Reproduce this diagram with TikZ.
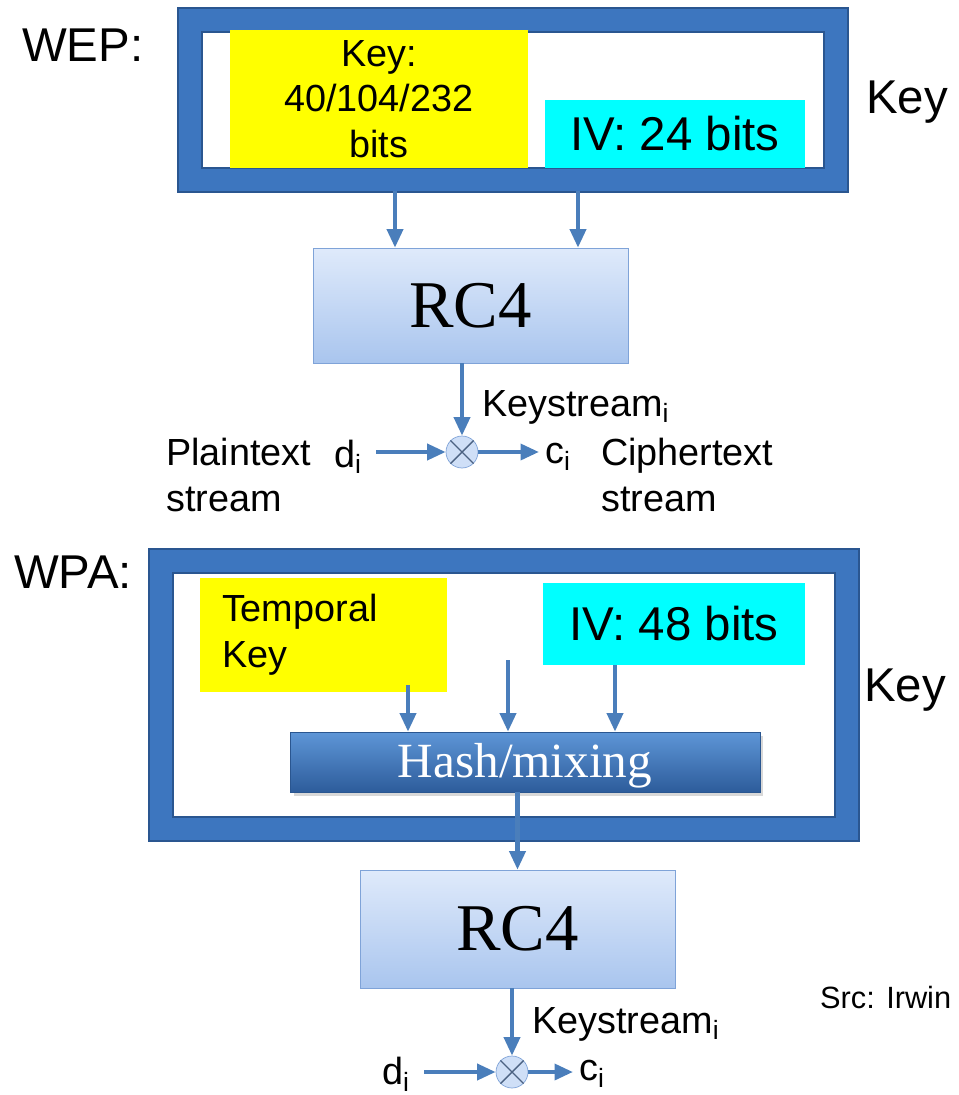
\documentclass[tikz,border=0pt]{standalone}
\usepackage{fontspec}
\setmainfont{Liberation Sans}
\newfontfamily\boxserif{Liberation Serif}
\usepackage{xcolor}
\usetikzlibrary{arrows.meta,shadows}

\definecolor{frameblue}{HTML}{3D76BF}
\definecolor{framedark}{HTML}{2A5690}
\definecolor{arrowblue}{HTML}{4A7EBB}
\definecolor{rctop}{HTML}{DFEAFB}
\definecolor{rcbottom}{HTML}{A9C5EE}
\definecolor{rcedge}{HTML}{7FA3D8}
\definecolor{hashtop}{HTML}{5E96D7}
\definecolor{hashbottom}{HTML}{2D5C9B}
\definecolor{keyyellow}{HTML}{FFFF00}
\definecolor{ivcyan}{HTML}{00FFFF}

\begin{document}
\begin{tikzpicture}[x=0.02cm,y=-0.02cm,
	big/.style={font=\fontsize{27}{32}\selectfont},
	mid/.style={font=\fontsize{21.5}{26}\selectfont},
	frame/.style={draw=framedark,line width=0.9pt,double=frameblue,double distance=0.44cm,fill=white,outer sep=0.23cm,minimum width=#1},
	rcbox/.style={draw=rcedge,top color=rctop,bottom color=rcbottom,font=\boxserif\fontsize{38}{40}\selectfont},
	xor/.style={circle,draw=rcedge,fill=rctop!70!rcbottom,minimum size=0.64cm,inner sep=0pt},
	arr/.style={arrowblue,line width=2.3pt,-{Triangle[length=10.5pt,width=9pt]}}]
	\useasboundingbox (0,0) rectangle (958,1095);

	\node[big,anchor=west] (weplabel) at (16,45) {WEP:};
	\node[frame=12.92cm,minimum height=3.2cm] (wepframe) at (513,100) {};
	\node[fill=keyyellow,minimum width=5.96cm,minimum height=2.76cm,align=center,mid] (wepkey) at (379,99) {Key:\\40/104/232\\bits};
	\node[fill=ivcyan,minimum width=5.2cm,minimum height=1.36cm,big] (wepiv) at (675,134) {IV: 24 bits};
	\node[big,anchor=west] (wepkeylabel) at (860,102) {Key};

	\node[rcbox,minimum width=6.3cm,minimum height=2.3cm] (rc4a) at (470.5,305.5) {RC4};
	\draw[arr] (wepframe.south -| 395,0) -- (rc4a.north -| 395,0);
	\draw[arr] (wepframe.south -| 578,0) -- (rc4a.north -| 578,0);

	\node[xor] (xora) at (462,452) {};
	\draw[rcedge!60!black,line width=0.8pt] (xora.north west) -- (xora.south east) (xora.north east) -- (xora.south west);
	\draw[arr] (rc4a.south -| xora.north) -- (xora.north);
	\node[mid,anchor=west] (ksa) at (476,407) {Keystream\textsubscript{i}};
	\node[mid,anchor=north west,align=left] (plain) at (160,432) {Plaintext\\stream};
	\node[mid] (da) at (348,457) {d\textsubscript{i}};
	\node[mid] (ca) at (558,457) {c\textsubscript{i}};
	\node[mid,anchor=north west,align=left] (cipher) at (595,432) {Ciphertext\\stream};
	\draw[arr] (xora.west -| da.east) ++(8,0) -- (xora.west);
	\draw[arr] (xora.east) -- (xora.east -| ca.west);

	\node[big,anchor=west] (wpalabel) at (8,572) {WPA:};
	\node[frame=13.72cm,minimum height=5.36cm] (wpaframe) at (504,695) {};
	\node[fill=keyyellow,minimum width=4.94cm,minimum height=2.28cm,text width=4.06cm,inner xsep=0.44cm,align=left,mid] (tk) at (323.5,635) {Temporal\\Key};
	\node[fill=ivcyan,minimum width=5.24cm,minimum height=1.64cm,big] (wpaiv) at (674,624) {IV: 48 bits};
	\node[big,anchor=west] (wpakeylabel) at (858,690) {Key};

	\node[draw=framedark,top color=hashtop,bottom color=hashbottom,minimum width=9.4cm,minimum height=1.2cm,text=white,text height=18pt,text depth=0pt,font=\boxserif\fontsize{28}{30}\selectfont,drop shadow={opacity=0.3,shadow xshift=2pt,shadow yshift=-2pt}] (hash) at (525,762) {Hash/mixing};
	\coordinate (mix) at (508,660);
	\draw[arr] (408,685) -- (hash.north -| 408,0);
	\draw[arr] (mix) -- (hash.north -| mix);
	\draw[arr] (wpaiv.south -| 615,0) -- (hash.north -| 615,0);

	\node[rcbox,minimum width=6.3cm,minimum height=2.36cm] (rc4b) at (517.5,929) {RC4};
	\draw[arr] (hash.south -| rc4b.north) -- (rc4b.north);
	\node[font=\fontsize{17.5}{20}\selectfont,anchor=west] (src) at (814,997) {Src: Irwin};

	\node[xor] (xorb) at (512,1072) {};
	\draw[rcedge!60!black,line width=0.8pt] (xorb.north west) -- (xorb.south east) (xorb.north east) -- (xorb.south west);
	\draw[arr] (rc4b.south -| xorb.north) -- (xorb.north);
	\node[mid,anchor=west] (ksb) at (526,1024) {Keystream\textsubscript{i}};
	\node[mid] (db) at (396,1074) {d\textsubscript{i}};
	\node[mid] (cb) at (592,1074) {c\textsubscript{i}};
	\draw[arr] (xorb.west -| db.east) ++(8,0) -- (xorb.west);
	\draw[arr] (xorb.east) -- (xorb.east -| cb.west);
\end{tikzpicture}
\end{document}
